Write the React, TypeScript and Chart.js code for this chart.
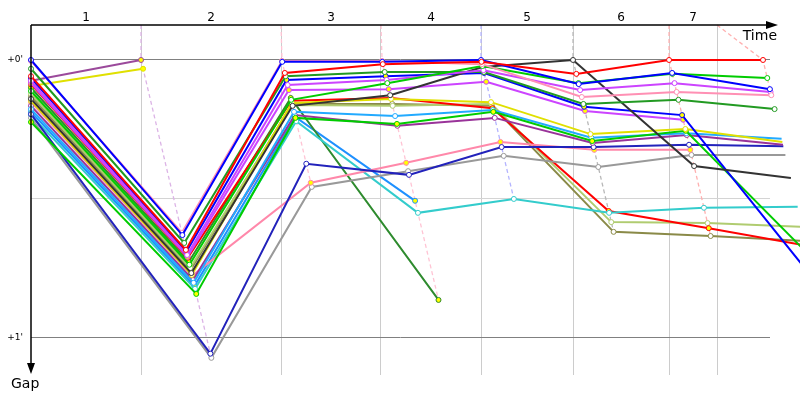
import React, { useEffect, useRef } from 'react';
import { Chart, registerables } from 'chart.js';

Chart.register(...registerables);

const FONT = '"DejaVu Sans", Verdana, sans-serif';

// Time axis (s of race time) and gap axis (s behind leader, drawn downwards)
const TIME_MIN = 0;
const TIME_MAX = 675.7;
const GAP_MIN = -7.55;
const GAP_MAX = 68;

// leader lap marks (gridlines) and lap number labels
const lapMarks = [100.6, 228.6, 320.0, 411.5, 495.6, 583.4, 627.3];
const lapLabelTimes = [50.3, 164.6, 274.3, 365.8, 453.6, 539.5, 605.4];
const lapLabels = ['1', '2', '3', '4', '5', '6', '7'];
const lapLineColors = ['#dcb4e6', '#ffc4d4', '#ffc4d4', '#b4b4ff', '#b8b8b8', '#ffb0b0', '#ffb0b0'];

const gapTicks = [0, 30, 60];
const gapTickLabels = ["+0'", '', "+1'"];

// each driver: [race time (s), gap (s)] at start, lap 1, lap 2, ...
const purpleLead = [[0, 4.5], [100.6, 0]];
const yellowLead = [[0, 5.6], [102.5, 1.9]];
const blueA = [[0, 0], [138.4, 37.8], [229.7, 0.4], [321.2, 0.4], [411.5, 0], [500.8, 5.2], [586.2, 2.8], [675.6, 6.3]];
const pinkA = [[0, 0.2], [137.9, 37.3], [229.5, 0.2], [321.0, 0.2], [412.4, 0.9], [503.6, 8.0], [590.3, 6.9], [676.9, 7.6]];
const redA = [[0, 3.5], [141.6, 41.0], [232.1, 2.8], [321.7, 0.9], [411.9, 0.4], [498.6, 3.0], [583.4, 0], [669.3, 0]];
const greenA = [[0, 6.7], [144.8, 44.2], [237.9, 8.6], [325.8, 5.0], [412.8, 1.3], [500.6, 5.0], [586.4, 3.0], [673.2, 3.9]];
const magentaA = [[0, 4.5], [142.7, 42.1], [234.7, 5.4], [325.1, 4.3], [413.7, 2.2], [502.1, 6.5], [588.4, 5.0], [676.2, 6.9]];
const greenDarkA = [[0, 1.9], [140.1, 39.5], [232.8, 3.5], [323.4, 2.6], [414.1, 2.6], [505.1, 9.5], [592.0, 8.6], [679.9, 10.6]];
const blackA = [[0, 8.4], [146.6, 46.0], [239.2, 9.9], [328.4, 7.6], [413.0, 1.5], [495.6, 0], [606.3, 22.9], [694.8, 25.5]];
const blueB = [[0, 3.9], [142.0, 41.4], [233.6, 4.3], [324.3, 3.5], [414.3, 2.8], [505.7, 10.1], [595.3, 11.9], [717.0, 47.7]];
const magentaB = [[0, 5.0], [143.1, 42.5], [235.8, 6.5], [327.1, 6.3], [416.2, 4.7], [506.6, 11.0], [596.3, 12.9]];
const yellowA = [[0, 8.8], [147.0, 46.4], [238.6, 9.3], [329.2, 8.4], [420.6, 9.1], [511.6, 16.0], [598.3, 14.9], [687.0, 17.7]];
const greenB = [[0, 13.4], [151.1, 50.5], [241.8, 12.5], [334.6, 13.8], [422.7, 11.2], [513.1, 17.5], [598.7, 15.3], [711.4, 42.1]];
const skyA = [[0, 10.6], [148.7, 48.1], [240.5, 11.2], [332.9, 12.1], [422.3, 10.8], [512.4, 16.8], [599.2, 15.8], [686.3, 17.0]];
const purpleA = [[0, 9.9], [148.1, 47.5], [241.2, 11.9], [335.0, 14.2], [424.0, 12.5], [513.5, 17.9], [599.6, 16.2], [687.6, 18.3]];
const navyA = [[0, 11.7], [164.0, 63.4], [251.7, 22.4], [345.6, 24.8], [430.3, 18.8], [514.4, 18.8], [601.7, 18.3], [687.9, 18.6]];
const salmonA = [[0, 9.1], [147.2, 46.6], [255.8, 26.5], [343.0, 22.2], [429.2, 17.7], [515.0, 19.4], [602.8, 19.4]];
const greyA = [[0, 12.5], [164.9, 64.3], [256.7, 27.4], [344.8, 24.0], [432.2, 20.7], [518.7, 23.1], [603.9, 20.5], [689.8, 20.5]];
const tealA = [[0, 11.9], [150.0, 49.4], [242.5, 13.2], [353.8, 33.0], [441.5, 30.0], [528.6, 33.0], [615.3, 31.9], [701.0, 31.7]];
const redB = [[0, 5.2], [143.3, 42.7], [238.1, 8.8], [329.0, 8.2], [421.9, 10.4], [528.2, 32.6], [619.7, 36.3], [709.4, 40.1]];
const oliveLight = [[0, 7.3], [145.5, 44.9], [239.0, 9.7], [330.7, 9.9], [421.0, 9.5], [530.6, 35.0], [618.6, 35.2], [705.3, 36.0]];
const oliveDark = [[0, 7.8], [145.9, 45.3], [238.8, 9.5], [330.3, 9.5], [421.4, 9.9], [532.7, 37.1], [621.4, 38.0], [708.4, 39.1]];
const greenDarkB = [[0, 6.0], [144.2, 43.6], [237.5, 8.2], [372.6, 51.8]];
const skyB = [[0, 11.2], [149.4, 48.8], [241.6, 12.3], [351.2, 30.4]];

const WHITE = '#ffffff';
const YELLOW = '#ffff00';

const drivers = [
  { pts: redA, color: '#ff0000', fill: WHITE },
  { pts: blueA, color: '#0000ff', fill: WHITE },
  { pts: pinkA, color: '#ff90b4', fill: WHITE },
  { pts: greenA, color: '#00cc00', fill: WHITE },
  { pts: magentaA, color: '#cc44ff', fill: WHITE },
  { pts: greenDarkA, color: '#229a22', fill: WHITE },
  { pts: blackA, color: '#333333', fill: WHITE },
  { pts: blueB, color: '#0000ff', fill: YELLOW },
  { pts: magentaB, color: '#cc44ff', fill: YELLOW },
  { pts: yellowA, color: '#e0e000', fill: WHITE },
  { pts: greenB, color: '#00cc00', fill: YELLOW },
  { pts: skyA, color: '#22aaff', fill: WHITE },
  { pts: purpleA, color: '#993399', fill: WHITE },
  { pts: navyA, color: '#2222bb', fill: WHITE },
  { pts: salmonA, color: '#ff88aa', fill: YELLOW },
  { pts: greyA, color: '#999999', fill: WHITE },
  { pts: tealA, color: '#33cccc', fill: WHITE },
  { pts: redB, color: '#ff0000', fill: YELLOW },
  { pts: oliveLight, color: '#b0cc70', fill: WHITE },
  { pts: oliveDark, color: '#8a8a48', fill: WHITE },
  { pts: greenDarkB, color: '#2e8b2e', fill: YELLOW },
  { pts: skyB, color: '#1e90ff', fill: YELLOW },
  { pts: purpleLead, color: '#9b4a9b', fill: YELLOW },
  { pts: yellowLead, color: '#e0e000', fill: YELLOW },
];

const decorations = {
  id: 'decorations',
  afterDraw(chart: any) {
    const { ctx, chartArea: a } = chart;
    ctx.save();
    ctx.strokeStyle = '#000';
    ctx.fillStyle = '#000';
    ctx.lineWidth = 1.5;
    // time axis (top) with arrow
    ctx.beginPath();
    ctx.moveTo(a.left, a.top);
    ctx.lineTo(a.right + 2, a.top);
    ctx.stroke();
    ctx.beginPath();
    ctx.moveTo(a.right + 8, a.top);
    ctx.lineTo(a.right - 4, a.top - 4);
    ctx.lineTo(a.right - 4, a.top + 4);
    ctx.closePath();
    ctx.fill();
    // gap axis (left) with arrow
    ctx.beginPath();
    ctx.moveTo(a.left, a.top);
    ctx.lineTo(a.left, a.bottom - 6);
    ctx.stroke();
    ctx.beginPath();
    ctx.moveTo(a.left, a.bottom - 1);
    ctx.lineTo(a.left - 4, a.bottom - 12);
    ctx.lineTo(a.left + 4, a.bottom - 12);
    ctx.closePath();
    ctx.fill();
    ctx.font = '14px ' + FONT;
    ctx.textAlign = 'right';
    ctx.textBaseline = 'middle';
    ctx.fillText('Time', a.right + 7, a.top + 11);
    ctx.textAlign = 'left';
    ctx.textBaseline = 'alphabetic';
    ctx.fillText('Gap', 11, a.bottom + 13);
    ctx.restore();
  },
};

export default function App() {
  const ref = useRef<HTMLCanvasElement>(null);

  useEffect(() => {
    document.body.style.margin = '0';
    const canvas = ref.current;
    if (!canvas) return;

    const datasets: any[] = drivers.map((d) => ({
      data: d.pts.map(([x, y]) => ({ x, y })),
      borderColor: d.color,
      borderWidth: 2,
      pointRadius: 2.5,
      pointBorderWidth: 1,
      pointBorderColor: d.color,
      pointBackgroundColor: d.fill,
      tension: 0,
      clip: false,
      order: 0,
    }));

    lapMarks.forEach((t, i) => {
      const k = i + 1;
      const pts = drivers
        .filter((d) => d.pts.length > k)
        .map((d) => ({ x: d.pts[k][0], y: d.pts[k][1] }))
        .sort((p, q) => p.y - q.y);
      datasets.push({
        data: [{ x: t, y: GAP_MIN }, ...pts],
        borderColor: lapLineColors[i],
        borderWidth: 1.3,
        borderDash: [4, 3],
        pointRadius: 0,
        tension: 0,
        clip: false,
        order: 1,
      });
    });

    const chart = new Chart(canvas, {
      type: 'line',
      data: { datasets },
      options: {
        responsive: false,
        animation: false,
        devicePixelRatio: 1,
        layout: { padding: { left: 0, right: 30, top: 0, bottom: 0 } },
        plugins: { legend: { display: false }, tooltip: { enabled: false } },
        scales: {
          x: {
            type: 'linear',
            position: 'top',
            min: TIME_MIN,
            max: TIME_MAX,
            afterBuildTicks: (axis: any) => {
              axis.ticks = lapLabelTimes.map((v) => ({ value: v }));
            },
            afterFit: (axis: any) => {
              axis.height = 25;
            },
            grid: { display: false, drawTicks: false },
            border: { display: false },
            ticks: {
              autoSkip: false,
              maxRotation: 0,
              padding: 0,
              color: '#000',
              font: { family: FONT, size: 12 },
              callback: (_v: any, i: number) => lapLabels[i],
            },
          },
          xg: {
            type: 'linear',
            position: 'bottom',
            min: TIME_MIN,
            max: TIME_MAX,
            afterBuildTicks: (axis: any) => {
              axis.ticks = lapMarks.map((v) => ({ value: v }));
            },
            afterFit: (axis: any) => {
              axis.height = 25;
            },
            grid: { color: '#cccccc', drawTicks: false, lineWidth: 1 },
            border: { display: false },
            ticks: { display: false },
          },
          y: {
            type: 'linear',
            reverse: true,
            min: GAP_MIN,
            max: GAP_MAX,
            afterBuildTicks: (axis: any) => {
              axis.ticks = gapTicks.map((v) => ({ value: v }));
            },
            afterFit: (axis: any) => {
              axis.width = 31;
            },
            grid: {
              color: (ctx: any) => (ctx.tick && ctx.tick.value === 30 ? '#d4d4d4' : '#808080'),
              drawTicks: false,
            },
            border: { display: false },
            ticks: {
              padding: 8,
              color: '#000',
              font: { family: FONT, size: 9 },
              callback: (_v: any, i: number) => gapTickLabels[i],
            },
          },
        },
      } as any,
      plugins: [decorations],
    });

    return () => chart.destroy();
  }, []);

  return (
    <div style={{ width: 800, height: 400 }}>
      <canvas ref={ref} width={800} height={400} style={{ display: 'block' }} />
    </div>
  );
}
